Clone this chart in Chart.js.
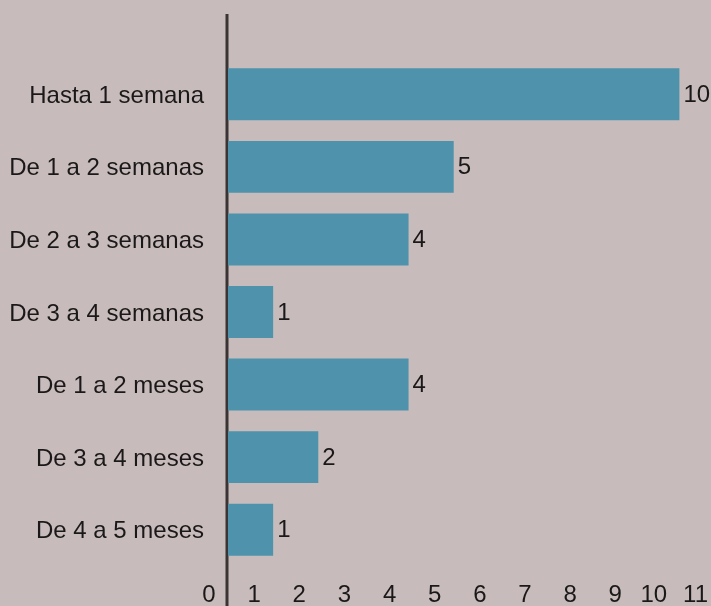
<!DOCTYPE html>
<html>
<head>
<meta charset="utf-8">
<script src="https://cdn.jsdelivr.net/npm/chart.js@4"></script>
<style>
  html, body { margin: 0; padding: 0; background: #c7bcbb; }
  #wrap { width: 711px; height: 606px; }
</style>
</head>
<body>
<div id="wrap"><canvas id="c" width="711" height="606"></canvas></div>
<script>
const categories = ['Hasta 1 semana', 'De 1 a 2 semanas', 'De 2 a 3 semanas', 'De 3 a 4 semanas', 'De 1 a 2 meses', 'De 3 a 4 meses', 'De 4 a 5 meses'];
const values = [10, 5, 4, 1, 4, 2, 1];
const xTickValues = [0, 1, 2, 3, 4, 5, 6, 7, 8, 9, 10, 11];

const FONT_FAMILY = '"Liberation Sans", Arial, sans-serif';
const FONT_SIZE = 24;
const TEXT_COLOR = '#1a1818';
const BAR_COLOR = '#4e93ab';
const BG = '#c7bcbb';

const bgPlugin = {
  id: 'bg',
  beforeDraw(chart) {
    const ctx = chart.ctx;
    ctx.save();
    ctx.fillStyle = BG;
    ctx.fillRect(0, 0, chart.width, chart.height);
    ctx.restore();
  }
};

const axisLinePlugin = {
  id: 'axisLine',
  beforeDatasetsDraw(chart) {
    const x = chart.scales.x.getPixelForValue(0) - 1;
    const ctx = chart.ctx;
    ctx.save();
    ctx.strokeStyle = '#3a3434';
    ctx.lineWidth = 3;
    ctx.beginPath();
    ctx.moveTo(x, 14);
    ctx.lineTo(x, chart.height);
    ctx.stroke();
    ctx.restore();
  }
};

const valueLabelPlugin = {
  id: 'valueLabels',
  afterDatasetsDraw(chart) {
    const ctx = chart.ctx;
    const meta = chart.getDatasetMeta(0);
    ctx.save();
    ctx.font = FONT_SIZE + 'px ' + FONT_FAMILY;
    ctx.fillStyle = TEXT_COLOR;
    ctx.textAlign = 'left';
    ctx.textBaseline = 'middle';
    meta.data.forEach((bar, i) => {
      ctx.fillText(String(chart.data.datasets[0].data[i]), bar.x + 4, bar.y + 1);
    });
    ctx.restore();
  }
};

new Chart(document.getElementById('c'), {
  type: 'bar',
  data: {
    labels: categories,
    datasets: [{
      data: values,
      backgroundColor: BAR_COLOR,
      borderWidth: 0,
      categoryPercentage: 1,
      barPercentage: 0.716
    }]
  },
  options: {
    indexAxis: 'y',
    responsive: false,
    animation: false,
    devicePixelRatio: 1,
    layout: { padding: { top: 58, right: 0, bottom: 0, left: 0 } },
    plugins: { legend: { display: false }, tooltip: { enabled: false } },
    scales: {
      x: {
        type: 'linear',
        position: 'bottom',
        min: 0,
        max: 10.7,
        grid: { display: false, drawTicks: false },
        border: { display: false },
        afterBuildTicks(scale) { scale.ticks = xTickValues.map(v => ({ value: v })); },
        afterFit(scale) { scale.paddingLeft = 0; scale.paddingRight = 0; scale.height = 40; },
        ticks: {
          autoSkip: false,
          maxRotation: 0,
          labelOffset: -19,
          padding: 15,
          color: TEXT_COLOR,
          font: { family: FONT_FAMILY, size: FONT_SIZE },
          // labels near the right edge are nudged left to stay inside the picture, as in the reference
          callback: (v) => String(v) + (v === 10 ? '\u00a0\u00a0' : v === 11 ? '\u00a0\u00a0\u00a0' : '')
        }
      },
      y: {
        type: 'category',
        grid: { display: false, drawTicks: false },
        border: { display: false },
        afterFit(scale) { scale.width = 228; },
        ticks: {
          padding: 24,
          labelOffset: 2,
          color: TEXT_COLOR,
          font: { family: FONT_FAMILY, size: FONT_SIZE }
        }
      }
    }
  },
  plugins: [bgPlugin, axisLinePlugin, valueLabelPlugin]
});
</script>
</body>
</html>
